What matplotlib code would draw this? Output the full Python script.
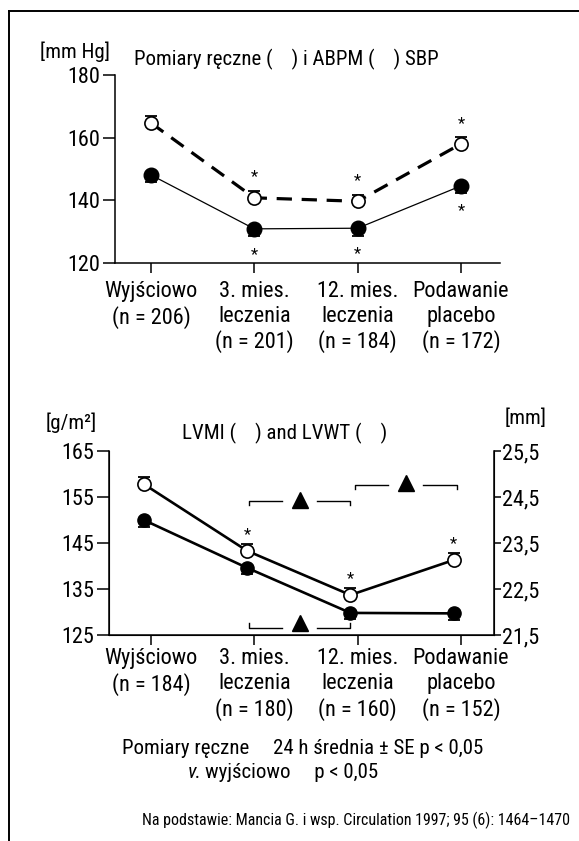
import numpy as np
import matplotlib
matplotlib.use("Agg")
import matplotlib.pyplot as plt
from matplotlib import font_manager
from matplotlib.lines import Line2D

# --- data ---
categories_top = ["Wyjściowo\n(n = 206)", "3. mies.\nleczenia\n(n = 201)",
                  "12. mies.\nleczenia\n(n = 184)", "Podawanie\nplacebo\n(n = 172)"]
categories_bot = ["Wyjściowo\n(n = 184)", "3. mies.\nleczenia\n(n = 180)",
                  "12. mies.\nleczenia\n(n = 160)", "Podawanie\nplacebo\n(n = 152)"]

# SBP [mm Hg]
office_sbp = [164.7, 140.8, 139.7, 158.0]      # open circles, dashed
office_se = [2.2, 2.2, 2.1, 2.1]
office_star = [False, True, True, True]
abpm_sbp = [148.1, 130.9, 131.1, 144.6]         # filled circles, solid
abpm_se = [2.2, 2.4, 2.4, 2.1]
abpm_star = [False, True, True, True]

# LVMI [g/m2] (filled) and LVWT [mm] (open)
lvmi = [150.0, 139.6, 129.8, 129.7]
lvmi_se = [1.5, 1.4, 1.4, 1.4]
lvwt = [24.78, 23.33, 22.37, 23.13]
lvwt_se = [0.15, 0.15, 0.15, 0.15]
lvwt_star = [False, True, True, True]

top_yticks = [120, 140, 160, 180]
bot_yticks = [125, 135, 145, 155, 165]
bot_yticks_r = [21.5, 22.5, 23.5, 24.5, 25.5]

# condensed sans if there is one, else Liberation Sans (Helvetica metrics)
names = {f.name for f in font_manager.fontManager.ttflist}
family = "Liberation Sans"
for cand in ["Liberation Sans Narrow", "Roboto Condensed", "Open Sans Condensed"]:
    if cand in names:
        family = cand
        break
plt.rcParams["font.family"] = [family, "DejaVu Sans"]
plt.rcParams["lines.scale_dashes"] = False

W, H = 579, 841
fig = plt.figure(figsize=(W / 100, H / 100), dpi=100)


def px_axes(l, r, t, b):
    return fig.add_axes([l / W, 1 - b / H, (r - l) / W, (b - t) / H])


FS = 16      # tick and category labels
FT = 15      # titles / units
LS = 1.22
x = np.arange(4)

# frame
fig.add_artist(Line2D([9 / W, 9 / W], [0, 1 - 11 / H], color="black", lw=1.4))
fig.add_artist(Line2D([9 / W, 1], [1 - 11 / H, 1 - 11 / H], color="black", lw=1.4))

# ---------------- top chart ----------------
ax1 = px_axes(115, 500, 75, 263)
ax1.set_xlim(-0.348, 3.378)
ax1.set_ylim(120, 180)
for s in ["top", "right"]:
    ax1.spines[s].set_visible(False)
for s in ["left", "bottom"]:
    ax1.spines[s].set_linewidth(1.1)
ax1.set_yticks(top_yticks)
ax1.set_yticklabels([str(v) for v in top_yticks], fontsize=FS)
ax1.set_xticks(x)
ax1.set_xticklabels(categories_top, fontsize=FS, linespacing=LS)
ax1.tick_params(axis="y", direction="out", length=8.5, width=1.1, pad=2)
ax1.tick_params(axis="x", direction="out", length=7, width=1.1, pad=6)
for lab in ax1.get_xticklabels():
    lab.set_multialignment("center")

ax1.errorbar(x, office_sbp, yerr=[np.zeros(4), office_se], fmt="none",
             ecolor="black", elinewidth=1.1, capsize=4.5, capthick=1.3, zorder=2)
ax1.errorbar(x, abpm_sbp, yerr=[abpm_se, np.zeros(4)], fmt="none",
             ecolor="black", elinewidth=1.1, capsize=4.5, capthick=1.3, zorder=2)
ax1.plot(x, office_sbp, color="black", lw=2.3, ls=(0, (11, 7)),
         marker="o", ms=9.5, mfc="white", mec="black", mew=1.2, zorder=3)
ax1.plot(x, abpm_sbp, color="black", lw=0.9,
         marker="o", ms=10.5, mfc="black", mec="black", zorder=3)
for i in range(4):
    if office_star[i]:
        ax1.annotate("*", (x[i], office_sbp[i] + office_se[i]), xytext=(0, 10),
                     textcoords="offset points", ha="center", va="center", fontsize=12)
    if abpm_star[i]:
        ax1.annotate("*", (x[i], abpm_sbp[i] - abpm_se[i]), xytext=(0, -13),
                     textcoords="offset points", ha="center", va="center", fontsize=12)

fig.text(40 / W, 1 - 52 / H, "[mm Hg]", fontsize=FT, va="center", ha="left")
fig.text(286 / W, 1 - 59 / H, "Pomiary ręczne (    ) i ABPM (    ) SBP",
         fontsize=FT, va="center", ha="center")

# ---------------- bottom chart ----------------
ax2 = px_axes(109, 494, 451, 635)
ax2.set_xlim(-0.407, 3.32)
ax2.set_ylim(125, 165)
ax2.spines["top"].set_visible(False)
for s in ["left", "bottom", "right"]:
    ax2.spines[s].set_linewidth(1.1)
ax2.set_yticks(bot_yticks)
ax2.set_yticklabels([str(v) for v in bot_yticks], fontsize=FS)
ax2.set_xticks(x)
ax2.set_xticklabels(categories_bot, fontsize=FS, linespacing=LS)
ax2.tick_params(axis="y", direction="out", length=8.5, width=1.1, pad=2)
ax2.tick_params(axis="x", direction="out", length=7, width=1.1, pad=2.5)
for lab in ax2.get_xticklabels():
    lab.set_multialignment("center")

ax3 = ax2.twinx()
ax3.set_ylim(21.5, 25.5)
ax3.spines["top"].set_visible(False)
ax3.set_yticks(bot_yticks_r)
ax3.set_yticklabels([f"{v:.1f}".replace(".", ",") for v in bot_yticks_r], fontsize=FS)
ax3.tick_params(axis="y", direction="out", length=5, width=1.1, pad=1)

xs = x - 0.07
ax2.errorbar(xs, lvmi, yerr=[lvmi_se, np.zeros(4)], fmt="none",
             ecolor="black", elinewidth=1.1, capsize=4.5, capthick=1.3, zorder=2)
ax2.plot(xs, lvmi, color="black", lw=1.9,
         marker="o", ms=9.5, mfc="black", mec="black", zorder=3)
ax3.errorbar(xs, lvwt, yerr=[np.zeros(4), lvwt_se], fmt="none",
             ecolor="black", elinewidth=1.1, capsize=4.5, capthick=1.3, zorder=2)
ax3.plot(xs, lvwt, color="black", lw=1.9,
         marker="o", ms=9.5, mfc="white", mec="black", mew=1.2, zorder=3)
for i in range(4):
    if lvwt_star[i]:
        ax3.annotate("*", (xs[i], lvwt[i] + lvwt_se[i]), xytext=(0, 7),
                     textcoords="offset points", ha="center", va="center", fontsize=12)


# significance brackets with triangles
def bracket(x0, x1, y, tick, tri_y):
    xm = (x0 + x1) / 2
    g = 0.17
    ax2.plot([x0, x0, xm - g], [y + tick, y, y], color="black", lw=1.0)
    ax2.plot([xm + g, x1, x1], [y, y, y + tick], color="black", lw=1.0)
    ax2.plot([xm], [tri_y], marker="^", ms=11, color="black", ls="none")


bracket(0.95, 1.93, 154.1, -0.9, 154.3)
bracket(1.97, 2.96, 157.6, -0.9, 158.0)
bracket(0.95, 1.93, 126.5, 1.0, 127.5)

fig.text(46 / W, 1 - 423 / H, "[g/m²]", fontsize=FT, va="center", ha="left")
fig.text(505 / W, 1 - 418 / H, "[mm]", fontsize=FT, va="center", ha="left")
fig.text(285 / W, 1 - 433 / H, "LVMI (    ) and LVWT (    )",
         fontsize=FT, va="center", ha="center")

# ---------------- footer ----------------
fig.text(122 / W, 1 - 748 / H, "Pomiary ręczne     24 h średnia ± SE p < 0,05",
         fontsize=FT, va="center", ha="left")
fig.text(188 / W, 1 - 772 / H, "v.", fontsize=FT, va="center", ha="left",
         style="italic")
fig.text(205 / W, 1 - 772 / H, "wyjściowo     p < 0,05",
         fontsize=FT, va="center", ha="left")
fig.text(570 / W, 1 - 820 / H,
         "Na podstawie: Mancia G. i wsp. Circulation 1997; 95 (6): 1464–1470",
         fontsize=11.5, va="center", ha="right")

fig.savefig("out.png", dpi=100)
